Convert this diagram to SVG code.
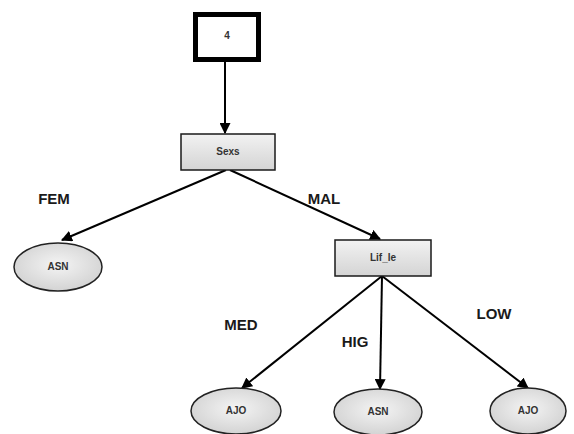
<svg xmlns="http://www.w3.org/2000/svg" width="574" height="434" viewBox="0 0 574 434">
  <defs>
    <linearGradient id="boxFill" x1="0" y1="0" x2="0" y2="1">
      <stop offset="0" stop-color="#f2f2f2"/>
      <stop offset="1" stop-color="#d4d4d4"/>
    </linearGradient>
    <radialGradient id="leafFill" cx="0.5" cy="0.45" r="0.6">
      <stop offset="0" stop-color="#f4f4f4"/>
      <stop offset="1" stop-color="#d0d0d0"/>
    </radialGradient>
    <marker id="arrow" viewBox="0 0 10 10" refX="9" refY="5" markerWidth="5.5" markerHeight="5.5" orient="auto" markerUnits="strokeWidth">
      <path d="M0,0 L10,5 L0,10 z" fill="#000"/>
    </marker>
  </defs>
  <style>
    .edge { stroke: #000; stroke-width: 2; fill: none; marker-end: url(#arrow); }
    .box { fill: url(#boxFill); stroke: #1a1a1a; stroke-width: 1.5; }
    .leaf { fill: url(#leafFill); stroke: #222; stroke-width: 1.5; }
    .ntext { font-family: "Liberation Sans", Arial, sans-serif; font-size: 10px; font-weight: bold; fill: #333; text-anchor: middle; }
    .elabel { font-family: "Liberation Sans", Arial, sans-serif; font-size: 15px; font-weight: bold; fill: #1a1a1a; text-anchor: middle; }
  </style>
  <rect width="574" height="434" fill="#fff"/>

  <g id="connectors">
    <line class="edge" x1="225" y1="62" x2="225" y2="133"/>
    <line class="edge" x1="226" y1="170" x2="62" y2="240"/>
    <line class="edge" x1="230" y1="170" x2="380" y2="239"/>
    <line class="edge" x1="382" y1="276" x2="242" y2="388"/>
    <line class="edge" x1="382" y1="276" x2="380" y2="389"/>
    <line class="edge" x1="382" y1="276" x2="528" y2="388"/>
  </g>

  <g id="edge-labels">
    <text class="elabel" x="54" y="204">FEM</text>
    <text class="elabel" x="324" y="204">MAL</text>
    <text class="elabel" x="241" y="330">MED</text>
    <text class="elabel" x="355" y="347">HIG</text>
    <text class="elabel" x="494" y="319">LOW</text>
  </g>

  <g id="root">
    <rect x="195.5" y="14.5" width="63" height="45" fill="#fff" stroke="#000" stroke-width="5"/>
    <text class="ntext" x="227" y="39">4</text>
  </g>

  <g id="sexs">
    <rect class="box" x="181" y="134" width="94" height="36"/>
    <text class="ntext" x="228" y="155">Sexs</text>
  </g>

  <g id="lif_le">
    <rect class="box" x="335" y="240" width="96" height="36"/>
    <text class="ntext" x="383" y="261">Lif_le</text>
  </g>

  <g id="leaf-asn-left">
    <ellipse class="leaf" cx="58" cy="267" rx="44" ry="24"/>
    <text class="ntext" x="58" y="270" font-size="8.5">ASN</text>
  </g>

  <g id="leaf-ajo-left">
    <ellipse class="leaf" cx="236" cy="411" rx="45" ry="23"/>
    <text class="ntext" x="236" y="414" font-size="8.5">AJO</text>
  </g>

  <g id="leaf-asn-mid">
    <ellipse class="leaf" cx="378" cy="412" rx="44" ry="23"/>
    <text class="ntext" x="378" y="415" font-size="8.5">ASN</text>
  </g>

  <g id="leaf-ajo-right">
    <ellipse class="leaf" cx="528" cy="411" rx="38" ry="23"/>
    <text class="ntext" x="528" y="414" font-size="8.5">AJO</text>
  </g>
</svg>
